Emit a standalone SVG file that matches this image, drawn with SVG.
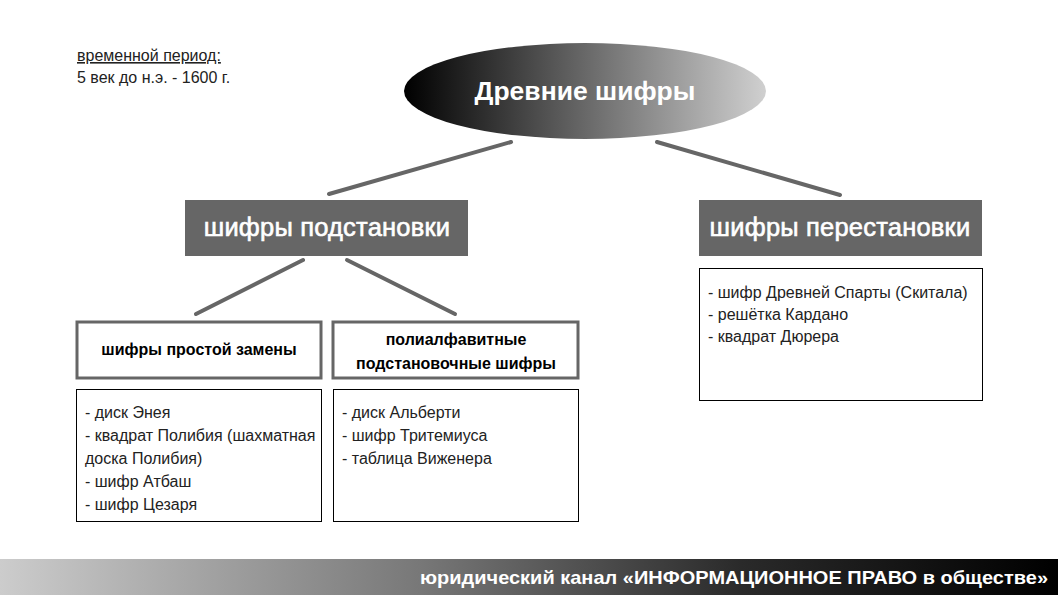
<svg xmlns="http://www.w3.org/2000/svg" width="1058" height="595" viewBox="0 0 1058 595">
<defs>
<linearGradient id="gEll" x1="0" y1="0" x2="1" y2="0">
<stop offset="0" stop-color="#000"/>
<stop offset="1" stop-color="#d0d0d0"/>
</linearGradient>
<linearGradient id="gBar" x1="0" y1="0" x2="1" y2="0">
<stop offset="0" stop-color="#cccccc"/>
<stop offset="0.4" stop-color="#777"/>
<stop offset="0.7" stop-color="#2a2a2a"/>
<stop offset="1" stop-color="#000"/>
</linearGradient>
<style>
text{font-family:"Liberation Sans",Arial,sans-serif}
.con{stroke:#666;stroke-width:4;stroke-linecap:round}
.dark{fill:#666}
.hdr{fill:#fff;font-size:25.5px;text-anchor:middle;stroke:#fff;stroke-width:0.6;letter-spacing:0.2px}
.sub{fill:#fff;stroke:#666;stroke-width:3}
.subt{font-size:16px;font-weight:bold;text-anchor:middle;fill:#000}
.lst{fill:#fff;stroke:#000;stroke-width:1}
.lt{font-size:16px;fill:#222}
</style>
</defs>
<rect width="1058" height="595" fill="#fff"/>
<g id="period">
<text x="77" y="61" class="lt" text-decoration="underline">временной период:</text>
<text x="77" y="83" class="lt">5 век до н.э. - 1600 г.</text>
</g>
<g id="connectors">
<line class="con" x1="329" y1="194" x2="511" y2="142"/>
<line class="con" x1="657" y1="142" x2="840" y2="195"/>
<line class="con" x1="303" y1="260" x2="196" y2="314"/>
<line class="con" x1="347" y1="260" x2="455" y2="314"/>
</g>
<g id="root">
<ellipse cx="585" cy="91" rx="181" ry="48" fill="url(#gEll)"/>
<text x="585" y="100" fill="#fff" font-size="26.5" font-weight="bold" text-anchor="middle">Древние шифры</text>
</g>
<g id="subst">
<rect x="185" y="200" width="283" height="56" class="dark"/>
<text x="327" y="236" class="hdr">шифры подстановки</text>
</g>
<g id="perm">
<rect x="699" y="200" width="283" height="56" class="dark"/>
<text x="840" y="236" class="hdr">шифры перестановки</text>
</g>
<g id="simple">
<rect x="77" y="322" width="244" height="56" class="sub"/>
<text x="199" y="355" class="subt">шифры простой замены</text>
</g>
<g id="poly">
<rect x="333" y="322" width="245" height="56" class="sub"/>
<text x="456" y="345" class="subt">полиалфавитные</text>
<text x="456" y="369" class="subt">подстановочные шифры</text>
</g>
<g id="list-simple">
<rect x="76.5" y="389.5" width="245" height="132" class="lst"/>
<text class="lt" x="85" y="418">- диск Энея</text>
<text class="lt" x="85" y="441">- квадрат Полибия (шахматная</text>
<text class="lt" x="85" y="464">доска Полибия)</text>
<text class="lt" x="85" y="487">- шифр Атбаш</text>
<text class="lt" x="85" y="510">- шифр Цезаря</text>
</g>
<g id="list-poly">
<rect x="333.5" y="389.5" width="245" height="132" class="lst"/>
<text class="lt" x="342" y="418">- диск Альберти</text>
<text class="lt" x="342" y="441">- шифр Тритемиуса</text>
<text class="lt" x="342" y="464">- таблица Виженера</text>
</g>
<g id="list-perm">
<rect x="699.5" y="268.5" width="283" height="132" class="lst"/>
<text class="lt" x="708" y="298">- шифр Древней Спарты (Скитала)</text>
<text class="lt" x="708" y="320">- решётка Кардано</text>
<text class="lt" x="708" y="342">- квадрат Дюрера</text>
</g>
<g id="footer">
<rect x="0" y="559" width="1058" height="36" fill="url(#gBar)"/>
<text x="1048" y="584" fill="#fff" font-size="19" font-weight="bold" text-anchor="end" textLength="628" lengthAdjust="spacingAndGlyphs">юридический канал «ИНФОРМАЦИОННОЕ ПРАВО в обществе»</text>
</g>
</svg>
